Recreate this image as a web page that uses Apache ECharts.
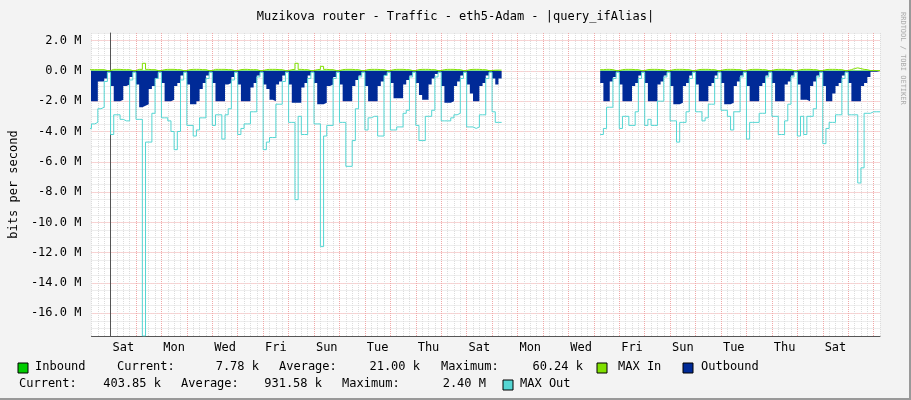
<!DOCTYPE html>
<html lang="en">
<head>
  <meta charset="UTF-8">
  <title>Muzikova router - Traffic</title>
  <style>
    html, body { margin: 0; padding: 0; background: #f3f3f3; }
    #chart { width: 911px; height: 400px; }
  </style>
</head>
<body>
  <div id="chart"></div>
  <script src="https://cdn.jsdelivr.net/npm/echarts@6/dist/echarts.min.js"></script>
  <script>
    // samples every 3 hours, first one at Fri 03:00 (hour -21 relative to Sat 00:00)
    var startHour = -21;
    var stepHours = 3;

    // outbound average (M bit/s, drawn below zero)
    var outbound = [
      -0.8, -2.0, -2.0, -2.0, -0.7, -0.7, -0.5,            // Fri (from 03h)
      -0.05, -1.0, -2.0, -2.0, -1.9, -1.0, -0.9, -0.4,     // Sat
      -0.05, -0.9, -2.4, -2.3, -2.2, -1.2, -1.0, -0.5,     // Sun
      -0.05, -0.8, -2.0, -2.0, -1.9, -1.0, -0.8, -0.3,     // Mon
      -0.05, -0.9, -2.2, -2.2, -2.0, -1.2, -0.8, -0.3,     // Tue
      -0.05, -0.8, -2.0, -2.0, -2.0, -0.9, -0.8, -0.4,     // Wed
      -0.05, -0.9, -2.0, -2.0, -2.0, -1.1, -0.8, -0.3,     // Thu
      -0.05, -0.9, -1.2, -1.9, -2.0, -0.9, -0.7, -0.3,     // Fri
      -0.05, -0.9, -2.1, -2.1, -2.1, -1.1, -0.8, -0.3,     // Sat
      -0.05, -0.8, -2.2, -2.2, -2.1, -1.0, -0.9, -0.4,     // Sun
      -0.05, -0.9, -2.0, -2.0, -2.0, -1.0, -0.6, -0.3,     // Mon
      -0.05, -1.0, -2.0, -2.0, -2.0, -1.0, -0.7, -0.3,     // Tue
      -0.05, -0.8, -1.8, -1.8, -1.8, -0.9, -0.6, -0.3,     // Wed
      -0.05, -0.8, -1.6, -1.9, -1.9, -0.9, -0.5, -0.2,     // Thu
      -0.05, -1.0, -2.1, -2.1, -2.0, -1.0, -0.7, -0.3,     // Fri
      -0.05, -0.9, -1.5, -2.0, -2.0, -1.0, -0.8, -0.3,     // Sat
      -0.05, -0.5, -0.9, -0.5, null, null, null, null,     // Sun
      null, null, null, null, null, null, null, null,      // Mon
      null, null, null, null, null, null, null, null,      // Tue
      null, null, null, null, null, null, null, null,      // Wed
      null, null, null, -0.8, -2.0, -2.0, -0.7, -0.4,      // Thu
      -0.05, -0.9, -2.0, -2.0, -2.0, -1.0, -0.8, -0.3,     // Fri
      -0.05, -0.8, -2.0, -2.0, -2.0, -0.9, -0.7, -0.3,     // Sat
      -0.05, -1.0, -2.2, -2.2, -2.1, -1.0, -0.8, -0.3,     // Sun
      -0.05, -0.9, -2.0, -2.0, -2.0, -1.0, -0.8, -0.3,     // Mon
      -0.05, -0.8, -2.2, -2.2, -2.1, -1.0, -0.7, -0.3,     // Tue
      -0.05, -1.0, -2.0, -2.0, -2.0, -1.0, -0.8, -0.3,     // Wed
      -0.05, -0.8, -2.0, -2.0, -2.0, -0.9, -0.7, -0.3,     // Thu
      -0.05, -0.9, -1.9, -1.9, -2.0, -1.0, -0.7, -0.3,     // Fri
      -0.05, -1.0, -2.0, -2.0, -1.5, -1.0, -0.8, -0.3,     // Sat
      -0.05, -0.8, -2.0, -2.0, -2.0, -1.0, -0.8, -0.4,     // Sun
      -0.05, -0.05, -0.05                                  // Mon
    ];

    // max outbound
    var maxOut = [
      -3.1, -3.8, -3.5, -3.4, -2.5, -2.4, -0.7,
      -0.1, -4.2, -2.9, -2.9, -3.2, -3.3, -3.3, -0.6,
      -0.1, -3.2, -3.2, -17.5, -4.7, -4.7, -2.8, -0.5,
      -0.1, -3.1, -3.1, -3.3, -4.0, -5.2, -4.0, -0.6,
      -0.1, -3.6, -3.6, -4.3, -3.9, -3.1, -3.1, -0.5,
      -0.1, -3.6, -2.9, -2.9, -4.5, -2.9, -2.5, -0.6,
      -0.1, -4.2, -3.8, -3.5, -3.5, -2.7, -2.7, -0.4,
      -0.1, -5.2, -4.7, -4.4, -4.4, -2.2, -2.2, -0.7,
      -0.1, -3.4, -3.4, -8.5, -3.0, -4.2, -4.2, -0.5,
      -0.1, -3.5, -3.5, -11.6, -4.3, -3.6, -3.6, -0.5,
      -0.1, -3.4, -3.4, -6.3, -6.3, -4.6, -2.5, -0.4,
      -0.1, -3.9, -3.1, -3.0, -3.0, -4.3, -4.3, -0.3,
      -0.1, -3.9, -3.9, -3.7, -3.7, -2.8, -2.6, -0.4,
      -0.1, -3.6, -4.6, -4.6, -3.0, -3.0, -2.6, -0.4,
      -0.1, -3.3, -3.3, -3.3, -3.1, -2.9, -2.8, -0.5,
      -0.1, -3.7, -3.7, -3.8, -3.7, -2.9, -2.9, -0.5,
      -0.1, -2.7, -3.4, -3.4, null, null, null, null,
      null, null, null, null, null, null, null, null,
      null, null, null, null, null, null, null, null,
      null, null, null, null, null, null, null, null,
      null, null, null, -4.2, -3.8, -2.4, -2.4, -0.5,
      -0.1, -3.8, -3.0, -3.0, -3.6, -3.6, -2.7, -0.5,
      -0.1, -3.6, -3.2, -3.6, -3.6, -2.0, -2.0, -0.4,
      -0.1, -3.3, -3.3, -4.7, -3.4, -3.4, -2.7, -0.5,
      -0.1, -2.7, -2.7, -3.3, -3.1, -2.2, -2.2, -0.5,
      -0.1, -2.6, -2.6, -3.0, -3.9, -2.7, -2.7, -0.4,
      -0.1, -4.5, -3.4, -3.4, -3.4, -2.8, -2.8, -0.4,
      -0.1, -3.0, -3.0, -4.2, -4.2, -3.3, -2.2, -0.4,
      -0.1, -4.3, -3.0, -4.2, -3.0, -3.0, -2.5, -0.4,
      -0.1, -4.8, -3.8, -3.4, -3.4, -2.9, -2.9, -0.5,
      -0.1, -2.9, -2.9, -2.9, -7.4, -6.4, -2.8, -2.8,
      -2.7, -2.7, -2.7
    ];

    // max inbound
    var maxIn = [
      0.08, 0.08, 0.08, 0.08, 0.08, 0.08, 0.02,
      0.02, 0.1, 0.1, 0.1, 0.08, 0.08, 0.08, 0.02,
      0.02, 0.1, 0.1, 0.5, 0.1, 0.08, 0.08, 0.02,
      0.02, 0.08, 0.1, 0.1, 0.1, 0.08, 0.08, 0.02,
      0.02, 0.08, 0.1, 0.1, 0.1, 0.08, 0.08, 0.02,
      0.02, 0.1, 0.1, 0.1, 0.1, 0.08, 0.08, 0.02,
      0.02, 0.08, 0.1, 0.1, 0.08, 0.08, 0.08, 0.02,
      0.02, 0.08, 0.1, 0.1, 0.1, 0.08, 0.08, 0.02,
      0.02, 0.08, 0.1, 0.5, 0.1, 0.08, 0.08, 0.02,
      0.02, 0.08, 0.1, 0.3, 0.1, 0.08, 0.08, 0.02,
      0.02, 0.08, 0.1, 0.1, 0.1, 0.08, 0.08, 0.02,
      0.02, 0.08, 0.1, 0.1, 0.1, 0.08, 0.08, 0.02,
      0.02, 0.08, 0.1, 0.1, 0.1, 0.08, 0.08, 0.02,
      0.02, 0.08, 0.1, 0.1, 0.1, 0.08, 0.08, 0.02,
      0.02, 0.08, 0.1, 0.1, 0.1, 0.08, 0.08, 0.02,
      0.02, 0.08, 0.1, 0.1, 0.1, 0.08, 0.08, 0.02,
      0.02, 0.05, 0.05, 0.05, null, null, null, null,
      null, null, null, null, null, null, null, null,
      null, null, null, null, null, null, null, null,
      null, null, null, null, null, null, null, null,
      null, null, null, 0.08, 0.1, 0.1, 0.08, 0.02,
      0.02, 0.08, 0.1, 0.1, 0.1, 0.08, 0.08, 0.02,
      0.02, 0.08, 0.1, 0.1, 0.1, 0.08, 0.08, 0.02,
      0.02, 0.08, 0.1, 0.1, 0.1, 0.08, 0.08, 0.02,
      0.02, 0.08, 0.1, 0.1, 0.1, 0.08, 0.08, 0.02,
      0.02, 0.08, 0.1, 0.1, 0.1, 0.08, 0.08, 0.02,
      0.02, 0.08, 0.1, 0.1, 0.1, 0.08, 0.08, 0.02,
      0.02, 0.08, 0.1, 0.1, 0.1, 0.08, 0.08, 0.02,
      0.02, 0.08, 0.1, 0.1, 0.1, 0.08, 0.08, 0.02,
      0.02, 0.08, 0.1, 0.1, 0.1, 0.08, 0.08, 0.02,
      0.02, 0.08, 0.15, 0.2, 0.15, 0.1, 0.08, 0.02,
      0.02, 0.02, 0.02
    ];

    var dayLabels = ['Sat', 'Mon', 'Wed', 'Fri', 'Sun', 'Tue', 'Thu', 'Sat',
      'Mon', 'Wed', 'Fri', 'Sun', 'Tue', 'Thu', 'Sat'];

    var legendRows = [
      ['Inbound', 'Current:', '7.78 k', 'Average:', '21.00 k', 'Maximum:', '60.24 k', 'MAX In', 'Outbound'],
      ['Current:', '403.85 k', 'Average:', '931.58 k', 'Maximum:', '2.40 M', 'MAX Out']
    ];

    function pairs(arr) {
      return arr.map(function (v, i) { return [startHour + i * stepHours, v]; });
    }
    // inbound average is tiny, take it from the max-in samples as drawn near zero
    var inbound = maxIn.map(function (v) { return v === null ? null : 0.02; });

    var mono = 'DejaVu Sans Mono';
    var grey = '#dcdcdc', pink = '#f0a8a8';

    var myChart = echarts.init(document.getElementById('chart'));

    function txt(x, y, s, align) {
      return { type: 'text', left: x, top: y, style: { text: s, font: '12px ' + mono, fill: '#000', textAlign: align || 'left' } };
    }
    function box(x, y, color) {
      return { type: 'rect', shape: { x: x, y: y, width: 10, height: 10 }, style: { fill: color, stroke: '#000', lineWidth: 1 } };
    }

    var r1 = legendRows[0], r2 = legendRows[1];
    var graphics = [
      box(18, 363, '#00cc00'), txt(35, 361, r1[0]), txt(117, 361, r1[1]),
      { type: 'text', x: 259, y: 361, style: { text: r1[2], font: '12px ' + mono, fill: '#000', align: 'right' } },
      txt(279, 361, r1[3]),
      { type: 'text', x: 420, y: 361, style: { text: r1[4], font: '12px ' + mono, fill: '#000', align: 'right' } },
      txt(441, 361, r1[5]),
      { type: 'text', x: 583, y: 361, style: { text: r1[6], font: '12px ' + mono, fill: '#000', align: 'right' } },
      box(597, 363, '#80e000'), txt(618, 361, r1[7]),
      box(683, 363, '#002a97'), txt(701, 361, r1[8]),
      txt(19, 378, r2[0]),
      { type: 'text', x: 161, y: 378, style: { text: r2[1], font: '12px ' + mono, fill: '#000', align: 'right' } },
      txt(181, 378, r2[2]),
      { type: 'text', x: 322, y: 378, style: { text: r2[3], font: '12px ' + mono, fill: '#000', align: 'right' } },
      txt(342, 378, r2[4]),
      { type: 'text', x: 486, y: 378, style: { text: r2[5], font: '12px ' + mono, fill: '#000', align: 'right' } },
      box(503, 380, '#55d6d3'), txt(520, 378, r2[6]),
      { type: 'text', x: 906, y: 12, rotation: -Math.PI / 2,
        style: { text: 'RRDTOOL / TOBI OETIKER', font: '7px ' + mono, fill: '#aaaaaa' } },
      { type: 'rect', shape: { x: 0, y: 398, width: 911, height: 2 }, style: { fill: '#999' } },
      { type: 'rect', shape: { x: 909, y: 0, width: 2, height: 400 }, style: { fill: '#999' } }
    ];

    var option = {
      backgroundColor: '#f3f3f3',
      animation: false,
      title: {
        text: 'Muzikova router - Traffic - eth5-Adam - |query_ifAlias|',
        left: 'center', top: 6,
        textStyle: { fontFamily: mono, fontSize: 12, fontWeight: 'normal', color: '#000' }
      },
      grid: { left: 81, right: 31, top: 33, bottom: 64, show: true, backgroundColor: '#fff', borderWidth: 0 },
      xAxis: {
        type: 'value', min: -18, max: 726, interval: 6,
        axisLine: { onZero: false, lineStyle: { color: '#555' } },
        axisTick: { show: false },
        axisLabel: {
          interval: 0, margin: 6, fontFamily: mono, fontSize: 12, color: '#000',
          formatter: function (v) {
            if (v >= 12 && (v - 12) % 48 === 0) return dayLabels[(v - 12) / 48] || '';
            return '';
          }
        },
        splitLine: { show: true, lineStyle: { type: 'dotted', color: [grey, grey, grey, pink] } }
      },
      yAxis: {
        type: 'value', min: -17.5, max: 2.5, interval: 0.5,
        name: 'bits per second', nameLocation: 'middle', nameGap: 67, nameRotate: 90,
        nameTextStyle: { fontFamily: mono, fontSize: 12, color: '#000' },
        axisLine: { show: true, lineStyle: { color: '#555' } },
        axisTick: { show: false },
        axisLabel: {
          fontFamily: mono, fontSize: 12, color: '#000', margin: 10,
          formatter: function (v) {
            if (Math.abs(v % 2) < 1e-9 && v < 2.4) return v.toFixed(1) + ' M';
            return '';
          }
        },
        splitLine: { show: true, lineStyle: { type: 'dotted', color: [grey, grey, grey, pink] } }
      },
      graphic: graphics,
      series: [
        { name: 'Inbound', type: 'line', step: 'start', symbol: 'none', data: pairs(inbound),
          lineStyle: { width: 0 }, areaStyle: { color: '#00cc00', opacity: 1 } },
        { name: 'MAX In', type: 'line', step: 'start', symbol: 'none', data: pairs(maxIn),
          lineStyle: { width: 1, color: '#80e000' } },
        { name: 'Outbound', type: 'line', step: 'start', symbol: 'none', data: pairs(outbound),
          lineStyle: { width: 0 }, areaStyle: { color: '#002a97', opacity: 1 } },
        { name: 'MAX Out', type: 'line', step: 'start', symbol: 'none', data: pairs(maxOut),
          lineStyle: { width: 1, color: '#55d6d3' } }
      ]
    };

    myChart.setOption(option);
  </script>
</body>
</html>
